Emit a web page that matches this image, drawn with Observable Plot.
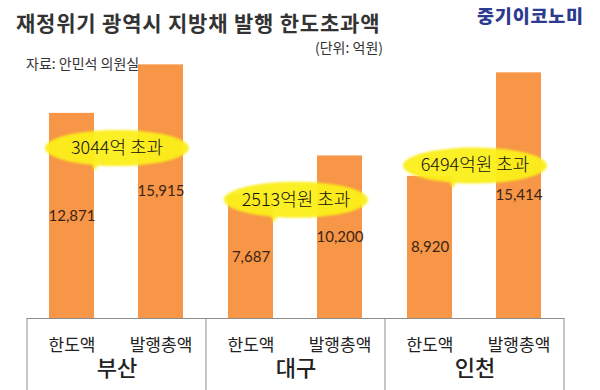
<!DOCTYPE html>
<html>
<head>
<meta charset="utf-8">
<script src="https://cdn.jsdelivr.net/npm/d3@7"></script>
<script src="https://cdn.jsdelivr.net/npm/@observablehq/plot@0.6"></script>
<style>
  html, body { margin: 0; padding: 0; background: #fff; }
  #wrap { position: relative; width: 600px; height: 390px; overflow: hidden; font-family: "Noto Sans CJK KR", sans-serif; }
  .ov { position: absolute; white-space: nowrap; line-height: 1; }
  #title { left: 16px; top: 12px; font-size: 21px; font-weight: 700; color: #333; letter-spacing: 0.8px; }
  #logo { left: 477px; top: 6px; font-size: 18.5px; font-weight: 900; color: #2c3a8f; letter-spacing: 0.8px; }
  #unit { left: 315px; top: 40px; font-size: 14px; color: #333; }
  #source { left: 26px; top: 56px; font-size: 14px; color: #333; }
</style>
</head>
<body>
<div id="wrap">
  <div id="chart"></div>
  <div class="ov" id="title">재정위기 광역시 지방채 발행 한도초과액</div>
  <div class="ov" id="logo">중기이코노미</div>
  <div class="ov" id="unit">(단위: 억원)</div>
  <div class="ov" id="source">자료: 안민석 의원실</div>
</div>
<script>
// ---- data ----
const cities = ["부산", "대구", "인천"];
const kinds = ["한도액", "발행총액"];
const limitValues = [12871, 7687, 8920];     // 한도액
const issuedValues = [15915, 10200, 15414];  // 발행총액
const annotTexts = ["3044억 초과", "2513억원 초과", "6494억원 초과"];
const annotY = [10700, 7450, 9600];          // value level of each callout

// table built from the arrays
const bars = [];
cities.forEach((c, i) => {
  bars.push({city: c, kind: kinds[0], value: limitValues[i]});
  bars.push({city: c, kind: kinds[1], value: issuedValues[i]});
});
const annots = cities.map((c, i) => ({city: c, text: annotTexts[i], y: annotY[i]}));

// ellipse-shaped callout symbol (with a small tail)
const calloutSymbol = {
  draw(ctx, size) {
    const r = Math.sqrt(size / Math.PI);
    const rx = r * 2, ry = r / 2, k = 0.5523;
    ctx.moveTo(rx, 0);
    ctx.bezierCurveTo(rx, ry * k, rx * k, ry, 0, ry);
    ctx.bezierCurveTo(-rx * k, ry, -rx, ry * k, -rx, 0);
    ctx.bezierCurveTo(-rx, -ry * k, -rx * k, -ry, 0, -ry);
    ctx.bezierCurveTo(rx * k, -ry, rx, -ry * k, rx, 0);
    ctx.closePath();
    ctx.moveTo(-rx * 0.36, ry * 0.8);
    ctx.lineTo(-rx * 0.24, ry * 0.8);
    ctx.lineTo(-rx * 0.31, ry + 5);
    ctx.closePath();
  }
};

const fmt = d3.format(",");

const chart = Plot.plot({
  width: 600,
  height: 390,
  marginTop: 63,
  marginBottom: 72,
  marginLeft: 27,
  marginRight: 36,
  style: {fontFamily: "'Noto Sans CJK KR', sans-serif", background: "transparent"},
  fx: {domain: cities, padding: 0, axis: null},
  x: {domain: kinds, paddingInner: 0.489, paddingOuter: 0.239, axis: null},
  y: {domain: [0, 16000], axis: null},
  marks: [
    Plot.barY(bars, {fx: "city", x: "kind", y: "value", fill: "#f79646"}),
    Plot.ruleY([0], {stroke: "#8c8c8c", strokeWidth: 1}),
    Plot.text(bars, {
      fx: "city", x: "kind", y: d => d.value / 2, text: d => fmt(d.value),
      fill: "#3a2418", fontSize: 15, fontFamily: "Lato, 'Noto Sans', sans-serif"
    }),
    Plot.dot(annots, {
      fx: "city", y: "y", r: 36, symbol: calloutSymbol,
      fill: "#fbee1a", stroke: "none", fillOpacity: 0.95, imageFilter: "blur(1px)"
    }),
    Plot.text(annots, {
      fx: "city", y: "y", text: "text", fill: "#111", fontSize: 18, fontWeight: 300
    }),
    Plot.text(bars, {
      fx: "city", x: "kind", y: () => 0, dy: 27, text: "kind",
      fill: "#222", fontSize: 17
    }),
    Plot.text(cities, {
      fx: d => d, frameAnchor: "bottom", dy: 57, text: d => d,
      fill: "#222", fontSize: 22, fontWeight: 500
    })
  ]
});

document.getElementById("chart").appendChild(chart);

// group separators of the category table, from Plot's own scales
const fxS = chart.scale("fx");
const yS = chart.scale("y");
const y0 = yS.apply(0);
const edges = cities.map(c => fxS.apply(c));
edges.push(fxS.apply(cities[cities.length - 1]) + fxS.bandwidth);
d3.select(chart).append("g")
  .attr("stroke", "#8c8c8c")
  .selectAll("line").data(edges).join("line")
  .attr("x1", d => d).attr("x2", d => d)
  .attr("y1", y0).attr("y2", 390);
</script>
</body>
</html>
